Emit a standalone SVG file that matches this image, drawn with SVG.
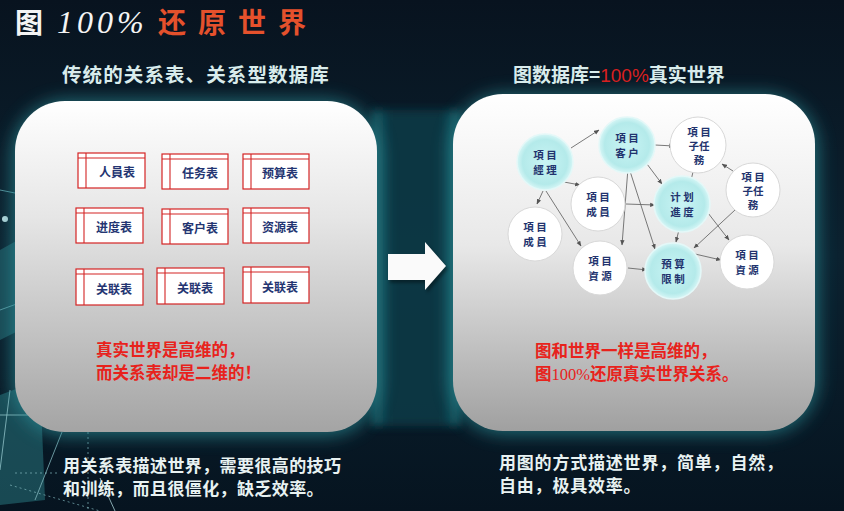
<svg xmlns="http://www.w3.org/2000/svg" width="844" height="511" viewBox="0 0 844 511">
<defs>
  <linearGradient id="bg" x1="0" y1="0" x2="0" y2="1">
    <stop offset="0" stop-color="#08131f"/>
    <stop offset="0.5" stop-color="#0b2230"/>
    <stop offset="1" stop-color="#061420"/>
  </linearGradient>
  <linearGradient id="panelL" x1="0" y1="0" x2="0" y2="1">
    <stop offset="0" stop-color="#ffffff"/>
    <stop offset="0.35" stop-color="#e6e6e6"/>
    <stop offset="1" stop-color="#a4a4a4"/>
  </linearGradient>
  <linearGradient id="panelR" x1="0" y1="0" x2="0" y2="1">
    <stop offset="0" stop-color="#ffffff"/>
    <stop offset="0.45" stop-color="#e8e8e8"/>
    <stop offset="1" stop-color="#a0a0a0"/>
  </linearGradient>
  <linearGradient id="band" x1="0" y1="0" x2="1" y2="0">
    <stop offset="0" stop-color="#1a6a74"/>
    <stop offset="0.2" stop-color="#0c3a46"/>
    <stop offset="0.8" stop-color="#0c3a46"/>
    <stop offset="1" stop-color="#1a6a74"/>
  </linearGradient>
  <radialGradient id="teal" cx="0.5" cy="0.5" r="0.5">
    <stop offset="0" stop-color="#c9f4f4"/>
    <stop offset="0.8" stop-color="#b4eaea"/>
    <stop offset="1" stop-color="#d6f6f6"/>
  </radialGradient>
  <filter id="glow" x="-20%" y="-20%" width="140%" height="140%">
    <feGaussianBlur stdDeviation="9"/>
  </filter>
  <filter id="blur4" x="-20%" y="-20%" width="140%" height="140%">
    <feGaussianBlur stdDeviation="4"/>
  </filter>
  <filter id="soft" x="-30%" y="-30%" width="160%" height="160%">
    <feGaussianBlur stdDeviation="1.5"/>
  </filter>
  <marker id="ah" viewBox="0 0 10 10" refX="9" refY="5" markerWidth="6" markerHeight="6" orient="auto">
    <path d="M0,1 L10,5 L0,9 z" fill="#555"/>
  </marker>
  <style>
    .cjk{font-family:"Noto Sans CJK SC","Noto Sans CJK TC",sans-serif;font-weight:bold}
    .tbl rect{fill:#ffffff;stroke:#d42424;stroke-width:1.2}
    .tbl line{stroke:#d42424;stroke-width:1.1}
    .tbl text{font-size:12px;fill:#243572;text-anchor:middle}
    .nd text{font-size:10.5px;fill:#22336e;text-anchor:middle}
    .nd circle.w{fill:#ffffff;stroke:#d8d8d8;stroke-width:1}
    .nd circle.t{fill:url(#teal);stroke:#e4f8f8;stroke-width:1.5}
    .edges line{stroke:#6a6a6a;stroke-width:0.9;marker-end:url(#ah)}
    .red{fill:#e8221c;font-size:16.5px}
    .wt{fill:#e8f2f2;font-size:17px}
  </style>
</defs>

<!-- background -->
<rect x="0" y="0" width="844" height="511" fill="url(#bg)"/>
<rect x="372" y="110" width="88" height="316" fill="url(#band)" opacity="0.85" filter="url(#blur4)"/>
<g id="decor" opacity="0.9">
  <polygon points="0,395 40,380 45,500 0,505" fill="#2b7f86" opacity="0.55"/>
  <polygon points="0,250 18,240 20,330 0,340" fill="#2b8088" opacity="0.5"/>
  <line x1="0" y1="190" x2="20" y2="194" stroke="#6fb9c0" stroke-width="0.8"/>
  <line x1="0" y1="310" x2="22" y2="302" stroke="#6fb9c0" stroke-width="0.8"/>
  <line x1="0" y1="415" x2="30" y2="415" stroke="#9fd5da" stroke-width="0.8"/>
  <line x1="10" y1="390" x2="0" y2="470" stroke="#9fd5da" stroke-width="0.8"/>
  <line x1="62" y1="432" x2="35" y2="500" stroke="#8fc8ce" stroke-width="0.8"/>
  <line x1="88" y1="432" x2="88" y2="511" stroke="#8fc8ce" stroke-width="0.7" stroke-dasharray="2,3"/>
  <line x1="15" y1="473" x2="60" y2="473" stroke="#8fc8ce" stroke-width="0.7" stroke-dasharray="2,3"/>
  <line x1="10" y1="485" x2="100" y2="511" stroke="#8fc8ce" stroke-width="0.7" stroke-dasharray="2,3"/>
  <line x1="100" y1="478" x2="115" y2="511" stroke="#b8e0e4" stroke-width="0.8"/>
  <circle cx="5" cy="219" r="3" fill="#cfeff2"/>
</g>

<!-- glows -->
<rect x="12" y="100" width="368" height="336" rx="55" fill="#2a8e97" opacity="0.7" filter="url(#glow)"/>
<rect x="450" y="94" width="368" height="340" rx="55" fill="#2a8e97" opacity="0.7" filter="url(#glow)"/>

<!-- title -->
<g id="title">
  <text x="15" y="33" class="cjk" font-size="28" fill="#f4f4f4">图</text>
  <text x="57" y="33" font-family="Liberation Serif, serif" font-style="italic" font-size="32" fill="#f4f4f4" letter-spacing="4">100%</text>
  <text x="158" y="33" class="cjk" font-size="28" fill="#e5512c" letter-spacing="12">还原世界</text>
</g>

<text x="62" y="82" class="cjk" font-size="19.5" fill="#d9ecec" letter-spacing="1.1">传统的关系表、关系型数据库</text>
<text x="513" y="82" class="cjk" font-size="19" fill="#d9ecec">图数据库=<tspan fill="#d82020" font-family="Liberation Sans, sans-serif" font-weight="normal">100%</tspan>真实世界</text>

<!-- left panel -->
<g id="panel-left">
  <rect x="15" y="101" width="362" height="331" rx="50" fill="url(#panelL)"/>
  <g id="t1" class="tbl cjk"><rect x="78" y="153" width="67" height="35"/><line x1="86" y1="153" x2="86" y2="188"/><line x1="78" y1="158" x2="145" y2="158"/><text x="117" y="177">人員表</text></g>
  <g id="t2" class="tbl cjk"><rect x="162" y="154" width="66" height="35"/><line x1="170" y1="154" x2="170" y2="189"/><line x1="162" y1="159" x2="228" y2="159"/><text x="200" y="178">任务表</text></g>
  <g id="t3" class="tbl cjk"><rect x="243" y="154" width="66" height="35"/><line x1="251" y1="154" x2="251" y2="189"/><line x1="243" y1="159" x2="309" y2="159"/><text x="280" y="178">预算表</text></g>
  <g id="t4" class="tbl cjk"><rect x="76" y="208" width="67" height="35"/><line x1="84" y1="208" x2="84" y2="243"/><line x1="76" y1="213" x2="143" y2="213"/><text x="114" y="232">进度表</text></g>
  <g id="t5" class="tbl cjk"><rect x="162" y="209" width="66" height="35"/><line x1="170" y1="209" x2="170" y2="244"/><line x1="162" y1="214" x2="228" y2="214"/><text x="200" y="233">客户表</text></g>
  <g id="t6" class="tbl cjk"><rect x="243" y="208" width="66" height="35"/><line x1="251" y1="208" x2="251" y2="243"/><line x1="243" y1="213" x2="309" y2="213"/><text x="280" y="232">资源表</text></g>
  <g id="t7" class="tbl cjk"><rect x="76" y="269" width="67" height="36"/><line x1="84" y1="269" x2="84" y2="305"/><line x1="76" y1="274" x2="143" y2="274"/><text x="114" y="294">关联表</text></g>
  <g id="t8" class="tbl cjk"><rect x="157" y="268" width="67" height="36"/><line x1="165" y1="268" x2="165" y2="304"/><line x1="157" y1="273" x2="224" y2="273"/><text x="195" y="293">关联表</text></g>
  <g id="t9" class="tbl cjk"><rect x="243" y="267" width="66" height="36"/><line x1="251" y1="267" x2="251" y2="303"/><line x1="243" y1="272" x2="309" y2="272"/><text x="280" y="292">关联表</text></g>
  <text x="96" y="356" class="cjk red">真实世界是高维的，</text>
  <text x="96" y="379" class="cjk red">而关系表却是二维的！</text>
</g>

<!-- arrow -->
<g id="arrow">
  <polygon points="388,254 425,254 425,242 446,266 425,290 425,280 388,280" fill="#000" opacity="0.35" transform="translate(2,3)" filter="url(#soft)"/>
  <polygon points="388,254 425,254 425,242 446,266 425,290 425,280 388,280" fill="#fafafa"/>
</g>

<!-- right panel -->
<g id="panel-right">
  <rect x="453" y="94" width="362" height="337" rx="50" fill="url(#panelR)"/>
</g>

<g class="edges" id="connectors">
  <line x1="571" y1="148" x2="599" y2="130"/>
  <line x1="564" y1="182" x2="580" y2="185"/>
  <line x1="543" y1="191" x2="537" y2="204"/>
  <line x1="546" y1="191" x2="581" y2="246"/>
  <line x1="655" y1="145" x2="674" y2="146"/>
  <line x1="647" y1="164" x2="662" y2="184"/>
  <line x1="628" y1="168" x2="622" y2="245"/>
  <line x1="629" y1="168" x2="655" y2="249"/>
  <line x1="626" y1="204" x2="655" y2="205"/>
  <line x1="693" y1="172" x2="676" y2="242"/>
  <line x1="733" y1="171" x2="722" y2="164"/>
  <line x1="735" y1="210" x2="694" y2="248"/>
  <line x1="708" y1="213" x2="729" y2="240"/>
  <line x1="628" y1="268" x2="647" y2="270"/>
  <line x1="695" y1="254" x2="721" y2="260"/>
</g>

<g id="n-jingli" class="nd cjk"><circle class="t" cx="545" cy="162" r="28"/><text x="545" y="159">項 目</text><text x="545" y="174">經 理</text></g>
<g id="n-kehu" class="nd cjk"><circle class="t" cx="627" cy="145" r="28"/><text x="627" y="142">項 目</text><text x="627" y="157">客 户</text></g>
<g id="n-zirenwu1" class="nd cjk"><circle class="w" cx="698" cy="145" r="28"/><text x="699" y="136">項 目</text><text x="699" y="150">子任</text><text x="699" y="164">務</text></g>
<g id="n-zirenwu2" class="nd cjk"><circle class="w" cx="753" cy="190" r="27"/><text x="753" y="181">項 目</text><text x="753" y="195">子任</text><text x="753" y="209">務</text></g>
<g id="n-chengyuan1" class="nd cjk"><circle class="w" cx="598" cy="204" r="27"/><text x="598" y="201">項 目</text><text x="598" y="216">成 員</text></g>
<g id="n-jihua" class="nd cjk"><circle class="t" cx="682" cy="204" r="28"/><text x="682" y="201">计 划</text><text x="682" y="216">進 度</text></g>
<g id="n-chengyuan2" class="nd cjk"><circle class="w" cx="535" cy="234" r="27"/><text x="535" y="231">項 目</text><text x="535" y="246">成 員</text></g>
<g id="n-ziyuan1" class="nd cjk"><circle class="w" cx="600" cy="268" r="27"/><text x="600" y="265">項 目</text><text x="600" y="280">資 源</text></g>
<g id="n-yusuan" class="nd cjk"><circle class="t" cx="673" cy="271" r="28"/><text x="673" y="268">預 算</text><text x="673" y="283">限 制</text></g>
<g id="n-ziyuan2" class="nd cjk"><circle class="w" cx="747" cy="262" r="27"/><text x="747" y="259">項 目</text><text x="747" y="274">資 源</text></g>

<text x="535" y="357" class="cjk red" font-size="17">图和世界一样是高维的，</text>
<text x="535" y="380" class="cjk red" font-size="17">图<tspan font-family="Liberation Serif, serif" font-weight="normal">100%</tspan>还原真实世界关系。</text>

<text x="63" y="472" class="cjk wt" letter-spacing="0.4">用关系表描述世界，需要很高的技巧</text>
<text x="63" y="495" class="cjk wt" letter-spacing="0.4">和训练，而且很僵化，缺乏效率。</text>
<text x="499" y="469" class="cjk wt" letter-spacing="0.8">用图的方式描述世界，简单，自然，</text>
<text x="499" y="492" class="cjk wt" letter-spacing="0.8">自由，极具效率。</text>
</svg>
